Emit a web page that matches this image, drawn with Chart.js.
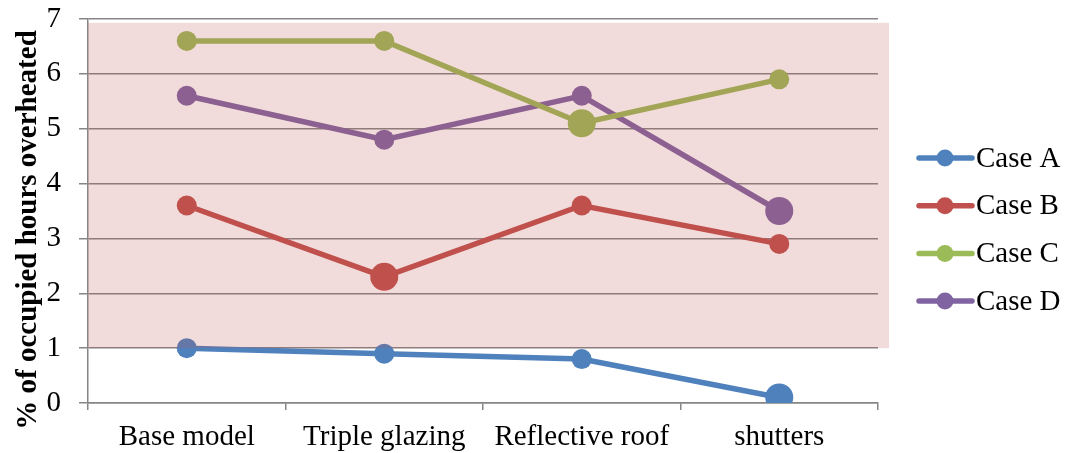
<!DOCTYPE html>
<html>
<head>
<meta charset="utf-8">
<script src="https://cdn.jsdelivr.net/npm/chart.js@4"></script>
<style>
  html, body { margin: 0; padding: 0; background: #fff; }
  #wrap { width: 1066px; height: 453px; }
</style>
</head>
<body>
<div id="wrap"><canvas id="heatChart"></canvas></div>
<script>
// data
var categories = ["Base model", "Triple glazing", "Reflective roof", "shutters"];
var caseNames = ["Case A", "Case B", "Case C", "Case D"];
var caseA = [1.0, 0.9, 0.8, 0.1];
var caseB = [3.6, 2.3, 3.6, 2.9];
var caseC = [6.6, 6.6, 5.1, 5.9];
var caseD = [5.6, 4.8, 5.6, 3.5];
var emphasised = [3, 1, 2, 3]; // point drawn bigger in each series
var bandRange = [1, 6.93];     // shaded overheating band
var yTicks = [0, 1, 2, 3, 4, 5, 6, 7];
var yTitle = "% of occupied hours overheated";

var colours = ["#4f81bd", "#c0504d", "#9bbb59", "#8064a2"];
var serif = "'Liberation Serif', 'Times New Roman', serif";

document.addEventListener("DOMContentLoaded", function () {
  var ctx = document.getElementById("heatChart").getContext("2d");

  var series = [caseA, caseB, caseC, caseD];
  var datasets = series.map(function (vals, i) {
    return {
      label: caseNames[i],
      data: vals,
      borderColor: colours[i],
      backgroundColor: colours[i],
      pointBackgroundColor: colours[i],
      pointBorderWidth: 0,
      borderWidth: 5.5,
      tension: 0,
      pointRadius: function (c) { return c.dataIndex === emphasised[i] ? 14 : 10; },
      pointHoverRadius: function (c) { return c.dataIndex === emphasised[i] ? 14 : 10; }
    };
  });

  // translucent red band laid over the lines and gridlines
  var bandPlugin = {
    id: "band",
    afterDatasetsDraw: function (chart) {
      var y = chart.scales.y, a = chart.chartArea, c = chart.ctx;
      var top = y.getPixelForValue(bandRange[1]);
      var bottom = y.getPixelForValue(bandRange[0]);
      c.save();
      c.fillStyle = "rgba(192, 80, 77, 0.2)";
      c.fillRect(a.left, top, a.right - a.left + 11, bottom - top);
      c.restore();
    }
  };

  // rotated axis title + line/marker legend on the right
  var decorPlugin = {
    id: "decor",
    afterDraw: function (chart) {
      var c = chart.ctx;
      c.save();
      c.translate(29, 230);
      c.rotate(-Math.PI / 2);
      c.fillStyle = "#000";
      c.font = "bold 29px " + serif;
      c.textAlign = "center";
      c.textBaseline = "middle";
      c.fillText(yTitle, 0, 0);
      c.restore();

      c.save();
      chart.data.datasets.forEach(function (ds, i) {
        var y = 158 + i * 47.7;
        c.strokeStyle = ds.borderColor;
        c.lineWidth = 5.5;
        c.lineCap = "round";
        c.beginPath();
        c.moveTo(919, y);
        c.lineTo(972, y);
        c.stroke();
        c.fillStyle = ds.borderColor;
        c.beginPath();
        c.arc(945, y, 8.5, 0, Math.PI * 2);
        c.fill();
        c.fillStyle = "#000";
        c.font = "29px " + serif;
        c.textBaseline = "middle";
        c.fillText(ds.label, 976, y + 1);
      });
      c.restore();
    }
  };

  new Chart(ctx, {
    type: "line",
    data: { labels: categories, datasets: datasets },
    plugins: [bandPlugin, decorPlugin],
    options: {
      responsive: true,
      maintainAspectRatio: false,
      animation: false,
      layout: { padding: { top: 19, right: 188, left: 0, bottom: 0 } },
      scales: {
        x: {
          offset: true,
          grid: {
            offset: true,
            drawOnChartArea: false,
            color: "#868686",
            tickLength: 7,
            lineWidth: 1.5
          },
          border: { color: "#868686", width: 1.5 },
          ticks: { color: "#000", font: { family: serif, size: 29 }, padding: 10, maxRotation: 0 },
          afterFit: function (s) { s.height = 50; }
        },
        y: {
          min: 0,
          max: 7,
          afterBuildTicks: function (s) { s.ticks = yTicks.map(function (v) { return { value: v }; }); },
          grid: {
            color: "#868686",
            lineWidth: 1.5,
            tickLength: 9
          },
          border: { color: "#868686", width: 1.5 },
          ticks: { color: "#000", font: { family: serif, size: 29 }, padding: 18 },
          afterFit: function (s) {
            s.width = 88;
            s.paddingTop = 0;
            s.paddingBottom = 0;
          }
        }
      },
      plugins: {
        legend: { display: false },
        tooltip: { enabled: false }
      }
    }
  });
});
</script>
</body>
</html>
